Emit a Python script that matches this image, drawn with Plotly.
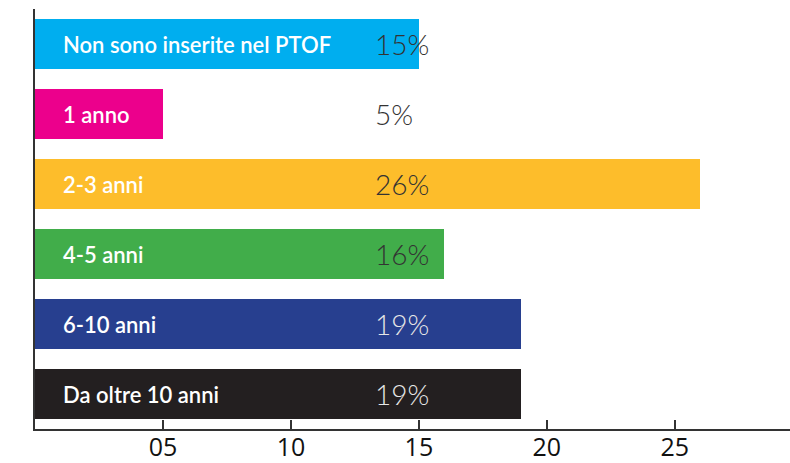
import plotly.graph_objects as go

categories = ["Non sono inserite nel PTOF", "1 anno", "2-3 anni", "4-5 anni", "6-10 anni", "Da oltre 10 anni"]
values = [15, 5, 26, 16, 19, 19]
colors = ["#00AEEF", "#EC008C", "#FDBD2B", "#41AD4A", "#273F8F", "#231F20"]
pct_colors = ["#333333", "#333333", "#333333", "#333333", "#E6E6E6", "#E6E6E6"]
tick_vals = [5, 10, 15, 20, 25]
tick_text = ["05", "10", "15", "20", "25"]

fig = go.Figure(go.Bar(
    y=categories, x=values, orientation="h",
    marker=dict(color=colors, line=dict(width=0)),
    width=50 / 70, hoverinfo="skip",
))

annotations = []
for cat, v, pc in zip(categories, values, pct_colors):
    annotations.append(dict(
        x=0, y=cat, xref="x", yref="y", text=cat, showarrow=False,
        xanchor="left", yanchor="middle", xshift=26,
        font=dict(family="Lato", size=22, color="white", weight=600),
    ))
    annotations.append(dict(
        x=0, y=cat, xref="x", yref="y", text=f"{v}%", showarrow=False,
        xanchor="left", yanchor="middle", xshift=338,
        font=dict(family="Lato", size=28, color=pc, weight=300),
    ))

fig.update_layout(
    width=790, height=463,
    margin=dict(l=35, r=0, t=9, b=34, autoexpand=False),
    paper_bgcolor="white", plot_bgcolor="white",
    showlegend=False, bargap=0,
    annotations=annotations,
    xaxis=dict(
        range=[0, 29.5], tickvals=tick_vals, ticktext=tick_text,
        showgrid=False, zeroline=False, showline=True,
        linecolor="#333333", linewidth=2,
        ticks="inside", ticklen=9, tickwidth=2, tickcolor="#333333",
        tickfont=dict(family="Open Sans", size=25, color="#111111"),
        ticklabelstandoff=-5,
        automargin=False, fixedrange=True,
    ),
    yaxis=dict(
        autorange="reversed", showticklabels=False, showgrid=False,
        zeroline=False, showline=True, linecolor="#333333", linewidth=2,
        ticks="", automargin=False, fixedrange=True,
    ),
)

fig.write_html(
    "out.html",
    config={"displayModeBar": False},
    post_script="document.body.style.margin='0';document.body.style.overflow='hidden';",
)
